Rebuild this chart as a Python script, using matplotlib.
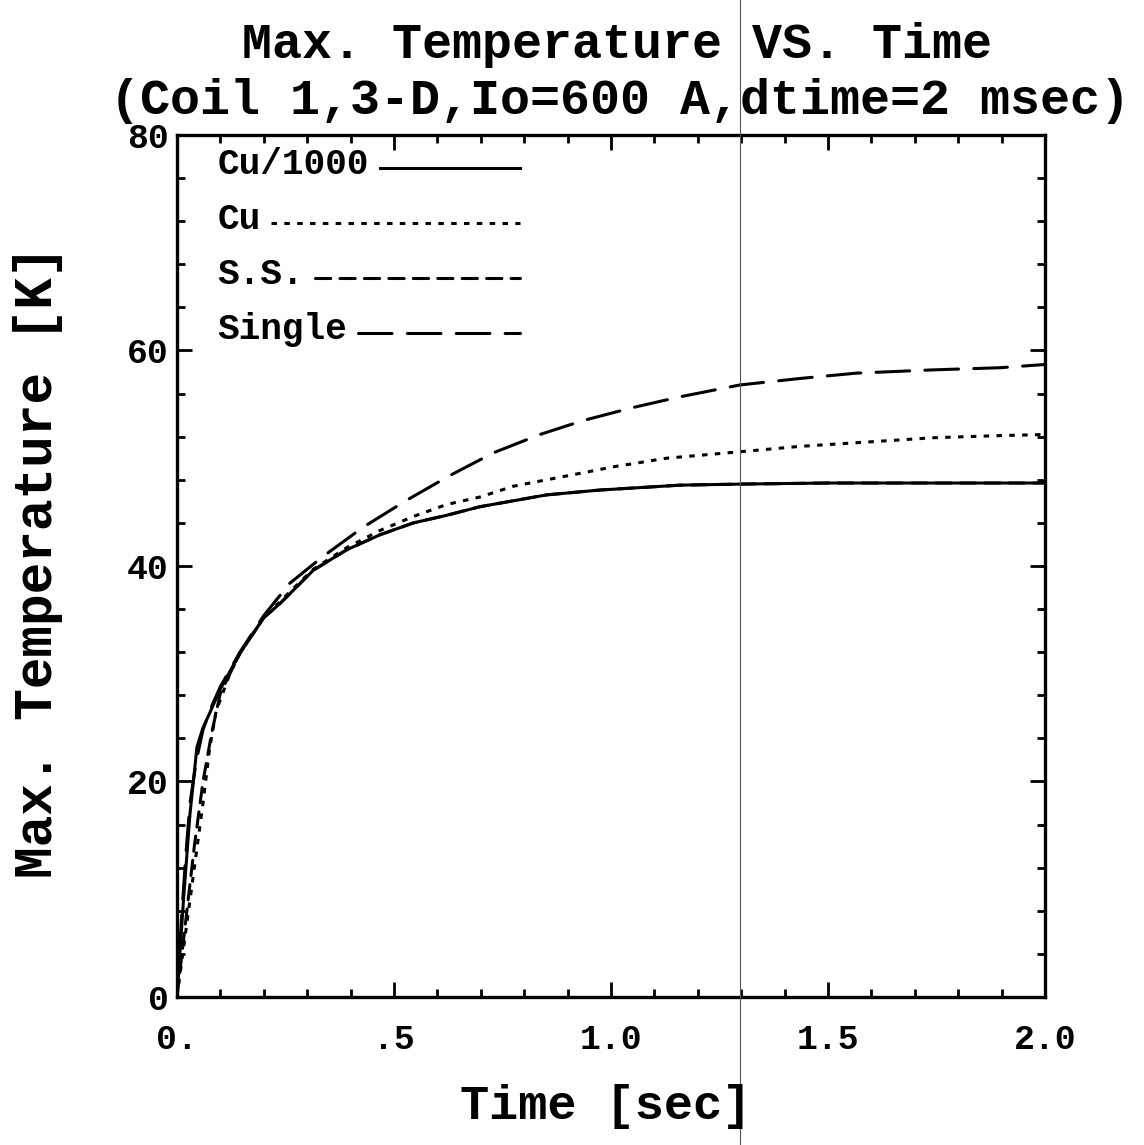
import matplotlib
matplotlib.use("Agg")
import matplotlib.pyplot as plt
from matplotlib.lines import Line2D
from matplotlib.ticker import MultipleLocator

# curves (time [sec], max temperature [K])
t_cu1000 = [0, 0.015, 0.03, 0.046, 0.06, 0.076, 0.1, 0.145, 0.2, 0.237, 0.314, 0.391,
            0.468, 0.545, 0.621, 0.698, 0.852, 0.975, 1.159, 1.3, 1.5, 1.75, 2.0]
T_cu1000 = [0, 9, 17, 23.2, 25.0, 26.4, 28.6, 31.9, 35.2, 36.5, 39.6, 41.5,
            42.9, 44.0, 44.7, 45.5, 46.6, 47.05, 47.5, 47.6, 47.7, 47.7, 47.7]

t_cu = [0, 0.02, 0.04, 0.06, 0.075, 0.09, 0.12, 0.145, 0.2, 0.26, 0.314, 0.391, 0.468,
        0.545, 0.621, 0.698, 0.775, 0.852, 0.929, 1.005, 1.128, 1.297, 1.435, 1.589,
        1.742, 1.896, 2.0]
T_cu = [0, 6, 12, 18, 23, 26.5, 29.8, 31.9, 35.2, 37.6, 39.7, 41.7, 43.3,
        44.6, 45.7, 46.4, 47.4, 48.0, 48.6, 49.2, 50.0, 50.6, 51.1, 51.5,
        51.9, 52.1, 52.2]

# S.S. lies under the Cu/1000 curve after the first ~0.2 s
t_ss = [0, 0.02, 0.04, 0.06, 0.08, 0.1, 0.145, 0.2, 0.237, 0.314, 0.391, 0.468, 0.545,
        0.621, 0.698, 0.852, 0.975, 1.159, 1.3, 1.5, 1.75, 2.0]
T_ss = [0, 7, 14, 20, 24.5, 28.2, 31.9, 35.2, 36.5, 39.6, 41.5, 42.9, 44.0,
        44.7, 45.5, 46.6, 47.05, 47.5, 47.6, 47.7, 47.7, 47.7]

t_single = [0, 0.01, 0.02, 0.03, 0.045, 0.06, 0.08, 0.1, 0.145, 0.2, 0.26, 0.337, 0.429,
            0.529, 0.629, 0.729, 0.836, 0.936, 1.05, 1.159, 1.297, 1.435, 1.566, 1.742,
            1.896, 2.0]
T_single = [0, 7, 13, 18, 22, 24.8, 27, 28.8, 32.0, 35.4, 38.4, 40.9, 43.6,
            46.1, 48.4, 50.5, 52.2, 53.5, 54.7, 55.7, 56.8, 57.4, 57.9, 58.2,
            58.4, 58.7]

labels = ["Cu/1000", "Cu", "S.S.", "Single"]
xtick_vals = [0, 0.5, 1.0, 1.5, 2.0]
xtick_labels = ["0.", ".5", "1.0", "1.5", "2.0"]
ytick_vals = [0, 20, 40, 60, 80]
ytick_labels = ["0", "20", "40", "60", "80"]

FONT = "Liberation Mono"
plt.rcParams["font.family"] = FONT
plt.rcParams["font.weight"] = "bold"

fig = plt.figure(figsize=(11.44, 11.45), dpi=100)
ax = fig.add_axes([0.1547, 0.1293, 0.7588, 0.7528])

lw = 2.2
styles = [
    dict(linestyle="-", dash_capstyle="round"),
    dict(linestyle=(0, (1.8, 2.4)), dash_capstyle="butt"),
    dict(linestyle=(0, (5, 3)), dash_capstyle="round"),
    dict(linestyle=(0, (11, 5)), dash_capstyle="round"),
]
series = [(t_cu1000, T_cu1000), (t_cu, T_cu), (t_ss, T_ss), (t_single, T_single)]

# draw S.S. first so the solid line sits on top of it
order = [2, 3, 1, 0]
for i in order:
    t, T = series[i]
    ax.plot(t, T, color="black", lw=lw, solid_capstyle="round", **styles[i])

ax.set_xlim(0, 2.0)
ax.set_ylim(0, 80)
ax.set_xticks(xtick_vals)
ax.set_xticklabels(xtick_labels)
ax.set_yticks(ytick_vals)
ax.set_yticklabels(ytick_labels)
ax.xaxis.set_minor_locator(MultipleLocator(0.1))
ax.yaxis.set_minor_locator(MultipleLocator(4))
ax.tick_params(which="both", direction="in", top=True, right=True, width=2)
ax.tick_params(which="major", length=11)
ax.tick_params(which="minor", length=6)
ax.tick_params(axis="x", labelsize=25, pad=19)
ax.tick_params(axis="y", labelsize=25, pad=6)
for sp in ax.spines.values():
    sp.set_linewidth(2.4)

# hand-drawn legend: label then line sample ending at a fixed x
fig.canvas.draw()
renderer = fig.canvas.get_renderer()
y0, dy = 0.966, 0.0638
for k, i in enumerate(range(4)):
    y = y0 - k * dy
    txt = ax.text(0.047, y, labels[i], transform=ax.transAxes, fontsize=26,
                  fontweight="bold", va="center", ha="left")
    bb = txt.get_window_extent(renderer).transformed(ax.transAxes.inverted())
    ax.plot([bb.x1 + 0.012, 0.395], [y - 0.004, y - 0.004], transform=ax.transAxes,
            color="black", lw=lw, **styles[i])

fig.text(0.539, 0.961, "Max. Temperature VS. Time", ha="center", va="center",
         fontsize=36, fontweight="bold")
fig.text(0.542, 0.912, "(Coil 1,3-D,Io=600 A,dtime=2 msec)", ha="center", va="center",
         fontsize=36, fontweight="bold")
fig.text(0.529, 0.034, "Time [sec]", ha="center", va="center",
         fontsize=35, fontweight="bold")
fig.text(0.033, 0.509, "Max. Temperature [K]", ha="center", va="center",
         rotation=90, fontsize=38, fontweight="bold")

# thin scanner streak running through the page
fig.add_artist(Line2D([740 / 1144, 740 / 1144], [0, 1], transform=fig.transFigure,
                      color="#555555", lw=0.8))

fig.savefig("out.png", dpi=100)
